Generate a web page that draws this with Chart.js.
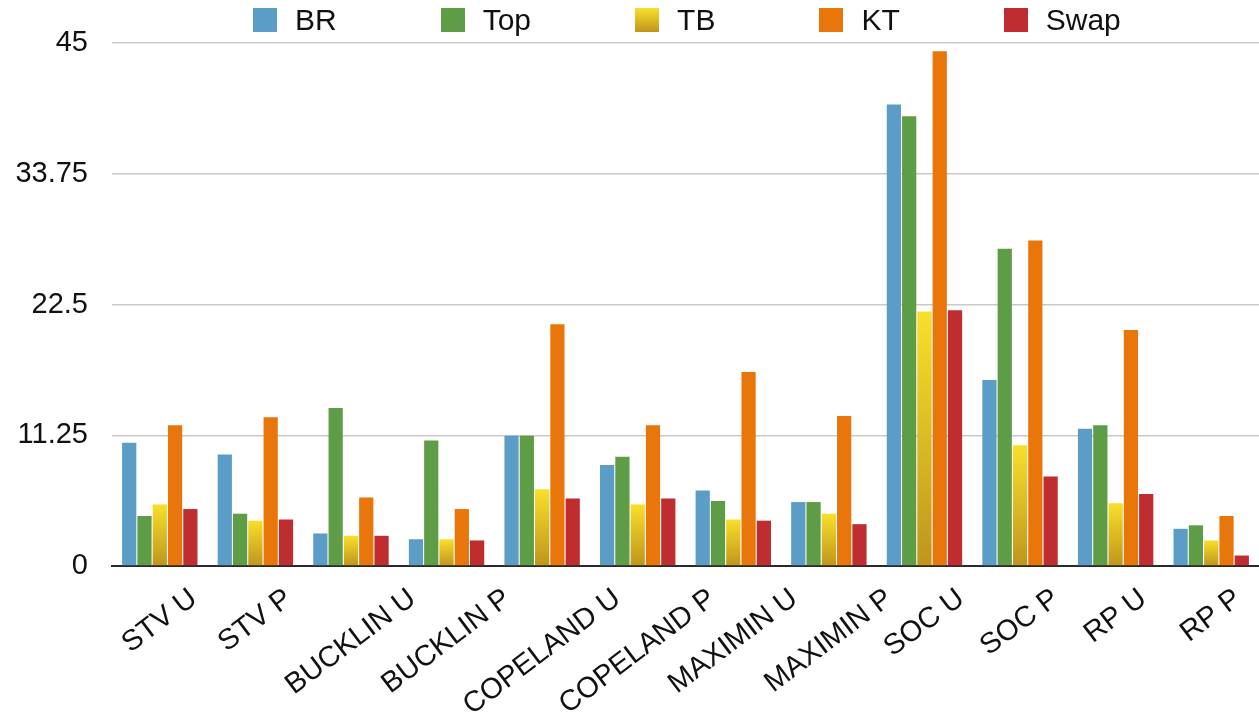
<!DOCTYPE html>
<html>
<head>
<meta charset="utf-8">
<script src="https://cdn.jsdelivr.net/npm/chart.js@4/dist/chart.umd.min.js"></script>
<style>
    html, body { margin: 0; padding: 0; background: #fff; }
    #wrap { position: relative; width: 1259px; height: 719px; }
    #legend {
        position: absolute; left: 253px; top: 5px;
        display: flex; align-items: center;
        font-family: "Liberation Sans", Arial, sans-serif; font-size: 30px; line-height: 30px; color: #111;
    }
    #legend .item { display: flex; align-items: center; margin-right: 104px; }
    #legend .box { width: 24px; height: 24px; margin-right: 18px; }
</style>
</head>
<body>
<div id="wrap">
    <canvas id="chart" width="1259" height="719"></canvas>
    <div id="legend"></div>
</div>
<script>
// Categories and series
const categories = ['STV U', 'STV P', 'BUCKLIN U', 'BUCKLIN P', 'COPELAND U', 'COPELAND P',
    'MAXIMIN U', 'MAXIMIN P', 'SOC U', 'SOC P', 'RP U', 'RP P'];
const seriesNames = ['BR', 'Top', 'TB', 'KT', 'Swap'];
const brValues   = [10.6, 9.6, 2.8, 2.3, 11.2, 8.7, 6.5, 5.5, 39.7, 16.0, 11.8, 3.2];
const topValues  = [4.3, 4.5, 13.6, 10.8, 11.2, 9.4, 5.6, 5.5, 38.7, 27.3, 12.1, 3.5];
const tbValues   = [5.3, 3.9, 2.6, 2.3, 6.6, 5.3, 4.0, 4.5, 21.9, 10.4, 5.4, 2.2];
const ktValues   = [12.1, 12.8, 5.9, 4.9, 20.8, 12.1, 16.7, 12.9, 44.3, 28.0, 20.3, 4.3];
const swapValues = [4.9, 4.0, 2.6, 2.2, 5.8, 5.8, 3.9, 3.6, 22.0, 7.7, 6.2, 0.9];
const yTicks = [0, 11.25, 22.5, 33.75, 45];

const colors = {
    br: '#5b9dc7',
    top: '#5f9c46',
    tbTop: '#f9df2b',
    tbBottom: '#bf951c',
    kt: '#e8760a',
    swap: '#bf2d31',
    grid: '#c9c9c9',
    base: '#2a2a2a',
    text: '#111111'
};

const FONT = '"Liberation Sans", Arial, sans-serif';
const LABEL_ANGLE = 37;   // degrees, x labels rotated counter-clockwise
const LABEL_GAP = 21;     // px from the axis to the top of each rotated label

// TB bars get a vertical yellow -> gold gradient, one per bar
function tbGradient(context) {
    const chart = context.chart;
    const yScale = chart.scales.y;
    if (!chart.chartArea || !yScale) return colors.tbTop;
    const v = tbValues[context.dataIndex];
    const top = yScale.getPixelForValue(v);
    const bottom = yScale.getPixelForValue(0);
    if (!isFinite(top) || top === bottom) return colors.tbTop;
    const g = chart.ctx.createLinearGradient(0, top, 0, bottom);
    g.addColorStop(0, colors.tbTop);
    g.addColorStop(1, colors.tbBottom);
    return g;
}

// Rotated category labels centred under their tick (Chart.js right-aligns them)
const centredXLabels = {
    id: 'centredXLabels',
    afterDraw(chart) {
        const ctx = chart.ctx;
        const xScale = chart.scales.x;
        const a = LABEL_ANGLE * Math.PI / 180;
        const top = chart.chartArea.bottom + LABEL_GAP;
        ctx.save();
        ctx.font = `29px ${FONT}`;
        ctx.fillStyle = colors.text;
        ctx.textAlign = 'center';
        ctx.textBaseline = 'middle';
        categories.forEach((label, i) => {
            const w = ctx.measureText(label).width;
            const x = xScale.getPixelForTick(i);
            const y = top + (w / 2) * Math.sin(a) + 10.5 * Math.cos(a);
            ctx.save();
            ctx.translate(x, y);
            ctx.rotate(-a);
            ctx.fillText(label, 0, 0);
            ctx.restore();
        });
        ctx.restore();
    }
};

const datasets = [
    { label: seriesNames[0], data: brValues, backgroundColor: colors.br },
    { label: seriesNames[1], data: topValues, backgroundColor: colors.top },
    { label: seriesNames[2], data: tbValues, backgroundColor: tbGradient },
    { label: seriesNames[3], data: ktValues, backgroundColor: colors.kt },
    { label: seriesNames[4], data: swapValues, backgroundColor: colors.swap }
].map(ds => Object.assign(ds, {
    categoryPercentage: 0.8,
    barPercentage: 0.93,
    borderWidth: 0
}));

// HTML legend
const legendColors = [colors.br, colors.top, null, colors.kt, colors.swap];
const legendEl = document.getElementById('legend');
seriesNames.forEach((name, i) => {
    const item = document.createElement('div');
    item.className = 'item';
    const box = document.createElement('div');
    box.className = 'box';
    box.style.background = legendColors[i] ||
        `linear-gradient(${colors.tbTop}, ${colors.tbBottom})`;
    const label = document.createElement('span');
    label.textContent = name;
    item.appendChild(box);
    item.appendChild(label);
    legendEl.appendChild(item);
});

new Chart(document.getElementById('chart').getContext('2d'), {
    type: 'bar',
    data: { labels: categories, datasets },
    plugins: [centredXLabels],
    options: {
        responsive: false,
        animation: false,
        devicePixelRatio: 1,
        layout: { padding: { top: 43, right: 0, left: 0, bottom: 0 } },
        plugins: {
            legend: { display: false },
            tooltip: { enabled: false }
        },
        scales: {
            x: {
                grid: { display: false, drawTicks: false },
                border: { display: true, color: colors.base, width: 2 },
                ticks: { display: false },
                afterFit: (scale) => { scale.height = 153; }
            },
            y: {
                min: 0,
                max: 45,
                afterBuildTicks: (scale) => {
                    scale.ticks = yTicks.map(v => ({ value: v }));
                },
                grid: { color: colors.grid, lineWidth: 1.5, drawTicks: false },
                border: { display: false },
                ticks: {
                    color: colors.text,
                    font: { family: FONT, size: 29 },
                    padding: 24,
                    callback: (v) => String(v)
                },
                afterFit: (scale) => { scale.width = 112; }
            }
        }
    }
});
</script>
</body>
</html>
